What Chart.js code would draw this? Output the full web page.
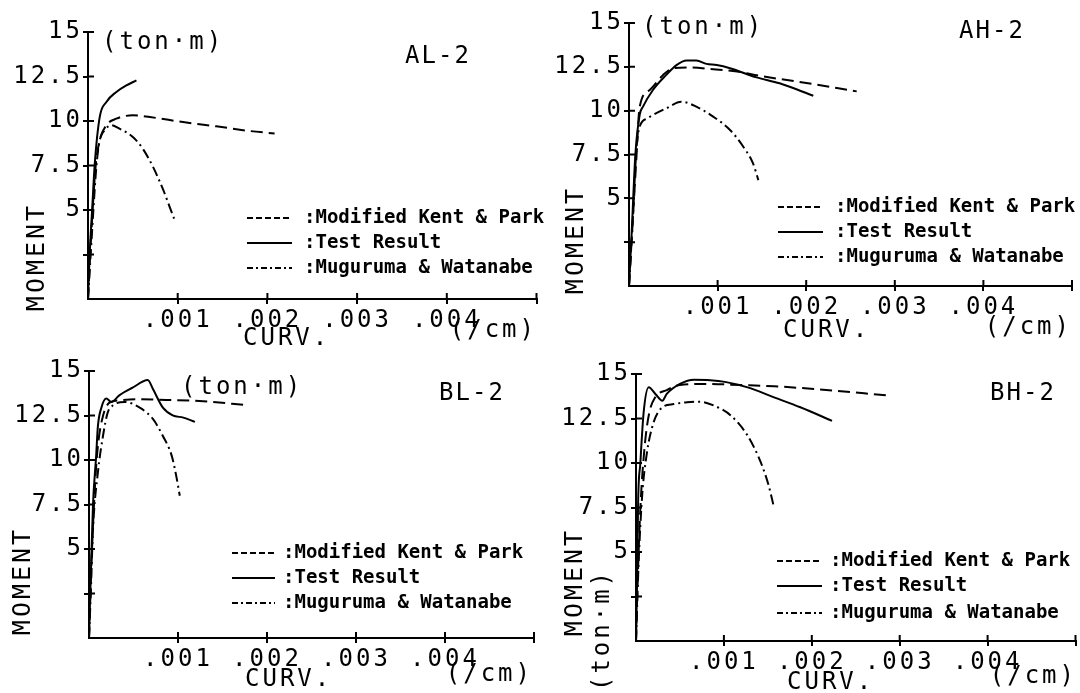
<!DOCTYPE html>
<html lang="en">

<head>
  <meta charset="UTF-8" />
  <title>Moment - Curvature</title>
  <style>
    body { margin: 0; background: #fff; }
    .panel { position: absolute; }
  </style>
</head>

<body>
  <canvas id="al2" class="panel" width="560" height="346" style="left:0;top:0"></canvas>
  <canvas id="ah2" class="panel" width="540" height="346" style="left:540px;top:0"></canvas>
  <canvas id="bl2" class="panel" width="560" height="347" style="left:0;top:346px"></canvas>
  <canvas id="bh2" class="panel" width="540" height="347" style="left:540px;top:346px"></canvas>

  <script src="https://cdn.jsdelivr.net/npm/chart.js"></script>
  <script>
    // axis ticks
    const yTicks = [0, 2.5, 5, 7.5, 10, 12.5, 15];
    const yTickLabels = ['', '', '5', '7.5', '10', '12.5', '15'];
    const xTicks = [0, 0.001, 0.002, 0.003, 0.004, 0.005];
    const xTickLabels = ['', '.001', '.002', '.003', '.004', ''];

    const seriesNames = ['Modified Kent & Park', 'Test Result', 'Muguruma & Watanabe'];

    // AL-2
    const alKentX = [0, 0.00004, 0.000086, 0.00013, 0.000205, 0.000316, 0.0005, 0.00069, 0.00106, 0.00143, 0.0018, 0.00208];
    const alKentY = [0, 4.0, 7.5, 8.9, 9.76, 10.13, 10.32, 10.22, 9.94, 9.7, 9.44, 9.3];
    const alTestX = [0, 0.000019, 0.000048, 0.000074, 0.00013, 0.000205, 0.000316, 0.000428, 0.00054];
    const alTestY = [0, 2.56, 5.18, 7.5, 10.2, 11.07, 11.63, 12.0, 12.28];
    const alMuguX = [0, 0.00003, 0.00006, 0.000093, 0.00013, 0.000186, 0.00026, 0.00035, 0.0005, 0.00061, 0.000725, 0.00084, 0.00091, 0.00096];
    const alMuguY = [0, 2.5, 5.0, 7.42, 8.9, 9.48, 9.76, 9.57, 9.1, 8.45, 7.42, 6.11, 5.18, 4.52];

    // AH-2
    const ahKentX = [0, 0.00004, 0.00008, 0.00012, 0.000234, 0.000385, 0.0005, 0.00069, 0.00095, 0.00122, 0.00148, 0.0019, 0.00257];
    const ahKentY = [0, 3.5, 7.0, 10.2, 11.18, 12.04, 12.42, 12.46, 12.36, 12.23, 11.98, 11.66, 11.1];
    const ahTestX = [0, 0.00003, 0.000072, 0.00012, 0.000158, 0.00027, 0.00042, 0.000536, 0.00065, 0.00076, 0.000875, 0.00099, 0.00114, 0.00144, 0.0017, 0.00208];
    const ahTestY = [0, 3.0, 7.5, 9.75, 10.23, 11.18, 12.04, 12.6, 12.86, 12.86, 12.67, 12.6, 12.42, 11.9, 11.56, 10.85];
    const ahMuguX = [0, 0.00004, 0.000083, 0.00012, 0.000208, 0.00027, 0.00042, 0.00059, 0.00076, 0.00095, 0.00114, 0.00129, 0.0014, 0.00146];
    const ahMuguY = [0, 3.5, 7.75, 9.09, 9.56, 9.75, 10.13, 10.51, 10.23, 9.66, 8.9, 7.94, 6.99, 6.04];

    // BL-2
    const blKentX = [0, 0.00003, 0.00007, 0.0001, 0.000157, 0.00023, 0.00034, 0.00057, 0.00087, 0.00124, 0.00179];
    const blKentY = [0, 4.5, 8.8, 10.79, 12.47, 13.22, 13.35, 13.41, 13.37, 13.32, 13.07];
    const blTestX = [0, 0.00002, 0.000045, 0.00008, 0.0001, 0.000139, 0.000195, 0.00025, 0.00034, 0.00049, 0.00066, 0.00072, 0.00083, 0.00094, 0.00106, 0.00119];
    const blTestY = [0, 3.5, 7.5, 10.2, 11.9, 12.94, 13.45, 13.26, 13.63, 14.06, 14.49, 13.97, 12.94, 12.51, 12.38, 12.14];
    const blMuguX = [0, 0.00002, 0.000045, 0.0001, 0.000157, 0.00021, 0.00027, 0.0004, 0.00057, 0.00072, 0.00083, 0.00093, 0.00098, 0.00102];
    const blMuguY = [0, 2.5, 6.1, 9.3, 11.35, 12.66, 13.07, 13.26, 12.94, 12.29, 11.35, 10.23, 9.11, 7.99];

    // BH-2
    const bhKentX = [0, 0.00002, 0.00005, 0.0001, 0.00015, 0.00022, 0.00035, 0.0005, 0.00081, 0.00119, 0.00157, 0.00199, 0.0029];
    const bhKentY = [0, 3.5, 7.5, 11.0, 12.8, 13.7, 14.1, 14.38, 14.44, 14.38, 14.31, 14.17, 13.78];
    const bhTestX = [0, 0.000015, 0.000023, 0.00005, 0.000087, 0.000144, 0.00022, 0.0003, 0.00035, 0.0005, 0.00066, 0.00081, 0.00104, 0.00127, 0.00157, 0.00187, 0.00223];
    const bhTestY = [0, 4.0, 7.5, 10.03, 12.84, 14.25, 13.88, 13.5, 13.88, 14.44, 14.68, 14.66, 14.53, 14.25, 13.69, 13.13, 12.37];
    const bhMuguX = [0, 0.00003, 0.00007, 0.000125, 0.0002, 0.0003, 0.00043, 0.00058, 0.00073, 0.00089, 0.00108, 0.00127, 0.00142, 0.00151, 0.00157];
    const bhMuguY = [0, 4.4, 8.16, 10.6, 12.28, 13.13, 13.31, 13.41, 13.44, 13.22, 12.66, 11.53, 10.03, 8.72, 7.5];

    const monoFont = '"DejaVu Sans Mono"';
    const labelFont = '24px ' + monoFont;
    const unitFont = '24px ' + monoFont;
    const axisTitleFont = '25px ' + monoFont;
    const keyFont = 'bold 19px ' + monoFont;

    // tick marks that cross the axis (inner half)
    const innerTicks = {
      id: 'innerTicks',
      beforeDraw(chart) { chart.ctx.letterSpacing = '3px'; },
      afterDraw(chart) {
        const ctx = chart.ctx, a = chart.chartArea;
        const xs = chart.scales.x, ys = chart.scales.y;
        ctx.save();
        ctx.strokeStyle = '#000';
        ctx.lineWidth = 2;
        ctx.beginPath();
        ys.ticks.forEach(t => {
          if (t.value > 0) {
            const py = ys.getPixelForValue(t.value);
            ctx.moveTo(a.left, py);
            ctx.lineTo(a.left + 6, py);
          }
        });
        xs.ticks.forEach(t => {
          if (t.value > 0) {
            const px = xs.getPixelForValue(t.value);
            ctx.moveTo(px, a.bottom);
            ctx.lineTo(px, a.bottom - 6);
          }
        });
        ctx.stroke();
        ctx.restore();
      }
    };

    function makeText(items) {
      return {
        id: 'panelText',
        afterDraw(chart) {
          const ctx = chart.ctx;
          items.forEach(it => {
            ctx.save();
            ctx.font = it.font || labelFont;
            ctx.letterSpacing = it.ls || '3px';
            ctx.fillStyle = '#000';
            ctx.textAlign = it.align || 'left';
            ctx.textBaseline = 'middle';
            ctx.translate(it.x, it.y);
            if (it.rot) ctx.rotate(-Math.PI / 2);
            ctx.fillText(it.t, 0, 0);
            ctx.restore();
          });
        }
      };
    }

    function makeKey(k) {
      return {
        id: 'lineKey',
        afterDraw(chart) {
          const ctx = chart.ctx;
          chart.data.datasets.forEach((ds, i) => {
            const y = k.rows[i];
            ctx.save();
            ctx.strokeStyle = '#000';
            ctx.lineWidth = 2;
            ctx.setLineDash(ds.keyDash);
            ctx.beginPath();
            ctx.moveTo(k.x0, y);
            ctx.lineTo(k.x1, y);
            ctx.stroke();
            ctx.setLineDash([]);
            ctx.font = keyFont;
            ctx.letterSpacing = '0px';
            ctx.fillStyle = '#000';
            ctx.textBaseline = 'middle';
            ctx.fillText(':' + ds.label, k.tx, y);
            ctx.restore();
          });
          ctx.letterSpacing = '0px';
        }
      };
    }

    const pts = (xs, ys) => xs.map((x, i) => ({ x: x, y: ys[i] }));
    const hideZero = c => (c.tick && c.tick.value === 0) ? 'rgba(0,0,0,0)' : '#000';

    function line(label, data, dash, keyDash) {
      return {
        label: label, data: data,
        borderColor: '#000', backgroundColor: '#000', borderWidth: 2,
        borderDash: dash, keyDash: keyDash,
        pointRadius: 0, fill: false, cubicInterpolationMode: 'monotone'
      };
    }

    function makePanel(id, box, series, texts, key) {
      const canvas = document.getElementById(id);
      const W = canvas.width, H = canvas.height;
      return new Chart(canvas, {
        type: 'line',
        data: {
          datasets: [
            line(seriesNames[0], pts(series[0], series[1]), [12, 6], [6, 3]),
            line(seriesNames[1], pts(series[2], series[3]), [], []),
            line(seriesNames[2], pts(series[4], series[5]), [10, 4, 2, 4], [6, 3, 2, 3])
          ]
        },
        options: {
          responsive: false,
          animation: false,
          events: [],
          layout: { padding: { top: box.top, right: W - box.right, left: 0, bottom: 0 } },
          plugins: { legend: { display: false }, tooltip: { enabled: false }, colors: { enabled: false } },
          scales: {
            x: {
              type: 'linear', min: 0, max: 0.005,
              afterBuildTicks: s => { s.ticks = xTicks.map(v => ({ value: v })); },
              afterFit: s => { s.height = H - box.bottom; },
              ticks: {
                autoSkip: false, maxRotation: 0, padding: 2, color: '#000',
                font: { family: 'DejaVu Sans Mono', size: 24 },
                callback: (v, i) => xTickLabels[i]
              },
              grid: { drawOnChartArea: false, tickLength: 5, lineWidth: 2, color: hideZero },
              border: { color: '#000', width: 2 }
            },
            y: {
              type: 'linear', min: 0, max: 15,
              afterBuildTicks: s => { s.ticks = yTicks.map(v => ({ value: v })); },
              afterFit: s => { s.width = box.left; },
              ticks: {
                autoSkip: false, padding: 0, color: '#000',
                font: { family: 'DejaVu Sans Mono', size: 24 },
                callback: (v, i) => yTickLabels[i]
              },
              grid: { drawOnChartArea: false, tickLength: 5, lineWidth: 2, color: hideZero },
              border: { color: '#000', width: 2 }
            }
          }
        },
        plugins: [innerTicks, makeText(texts), makeKey(key)]
      });
    }

    makePanel('al2', { left: 88, top: 32, right: 536.5, bottom: 299 },
      [alKentX, alKentY, alTestX, alTestY, alMuguX, alMuguY],
      [
        { t: '(ton·m)', x: 102, y: 43, font: unitFont, ls: '3px' },
        { t: 'AL-2', x: 438, y: 57, align: 'center', ls: '2px' },
        { t: 'MOMENT', x: 37, y: 257, rot: true, align: 'center', font: axisTitleFont },
        { t: 'CURV.', x: 243, y: 339 },
        { t: '(/cm)', x: 537, y: 331, align: 'right' }
      ],
      { x0: 247, x1: 292, tx: 304, rows: [218, 243, 268] });

    makePanel('ah2', { left: 89, top: 23, right: 532, bottom: 286 },
      [ahKentX, ahKentY, ahTestX, ahTestY, ahMuguX, ahMuguY],
      [
        { t: '(ton·m)', x: 102, y: 28, font: unitFont, ls: '3px' },
        { t: 'AH-2', x: 452, y: 32, align: 'center', ls: '2px' },
        { t: 'MOMENT', x: 36, y: 240, rot: true, align: 'center', font: axisTitleFont },
        { t: 'CURV.', x: 243, y: 331 },
        { t: '(/cm)', x: 532, y: 328, align: 'right' }
      ],
      { x0: 238, x1: 283, tx: 295, rows: [207, 232, 257] });

    makePanel('bl2', { left: 89, top: 25, right: 534, bottom: 292 },
      [blKentX, blKentY, blTestX, blTestY, blMuguX, blMuguY],
      [
        { t: '(ton·m)', x: 181, y: 42, font: unitFont, ls: '3px' },
        { t: 'BL-2', x: 472, y: 48, align: 'center', ls: '2px' },
        { t: 'MOMENT', x: 23, y: 235, rot: true, align: 'center', font: axisTitleFont },
        { t: 'CURV.', x: 245, y: 334 },
        { t: '(/cm)', x: 533, y: 329, align: 'right' }
      ],
      { x0: 232, x1: 275, tx: 283, rows: [207, 232, 257] });

    makePanel('bh2', { left: 96, top: 28, right: 535.5, bottom: 295 },
      [bhKentX, bhKentY, bhTestX, bhTestY, bhMuguX, bhMuguY],
      [
        { t: 'BH-2', x: 483, y: 48, align: 'center', ls: '2px' },
        { t: 'MOMENT', x: 35, y: 236, rot: true, align: 'center', font: axisTitleFont },
        { t: '(ton·m)', x: 63, y: 284, rot: true, align: 'center', font: unitFont, ls: '3px' },
        { t: 'CURV.', x: 247, y: 337 },
        { t: '(/cm)', x: 537, y: 331, align: 'right' }
      ],
      { x0: 237, x1: 282, tx: 290, rows: [215, 240, 267] });
  </script>
</body>

</html>
